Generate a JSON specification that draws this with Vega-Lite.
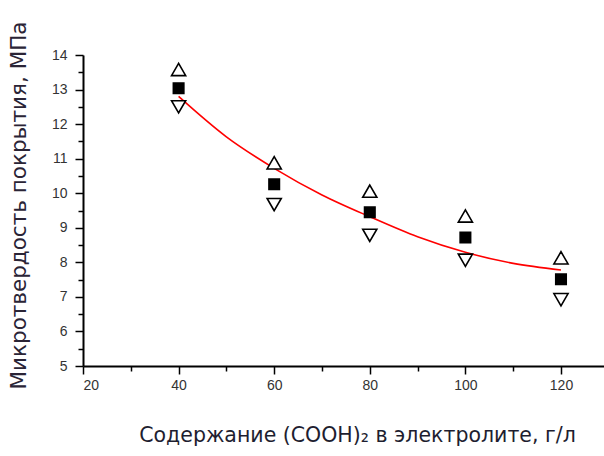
{
  "$schema": "https://vega.github.io/schema/vega-lite/v6.json",
  "width": 521,
  "height": 311,
  "autosize": "none",
  "padding": {"left": 83, "top": 55, "right": 0, "bottom": 90},
  "background": "white",
  "config": {"view": {"stroke": null}},
  "datasets": {
    "pts": [
      {"x": 40, "stat": "max", "value": 13.58},
      {"x": 40, "stat": "mean", "value": 13.04},
      {"x": 40, "stat": "min", "value": 12.5},
      {"x": 60, "stat": "max", "value": 10.88},
      {"x": 60, "stat": "mean", "value": 10.26},
      {"x": 60, "stat": "min", "value": 9.67},
      {"x": 80, "stat": "max", "value": 10.06},
      {"x": 80, "stat": "mean", "value": 9.45},
      {"x": 80, "stat": "min", "value": 8.78},
      {"x": 100, "stat": "max", "value": 9.34},
      {"x": 100, "stat": "mean", "value": 8.72},
      {"x": 100, "stat": "min", "value": 8.06},
      {"x": 120, "stat": "max", "value": 8.13},
      {"x": 120, "stat": "mean", "value": 7.51},
      {"x": 120, "stat": "min", "value": 6.92}
    ],
    "fit": [
      {"x": 40, "value": 12.8},
      {"x": 50, "value": 11.63},
      {"x": 60, "value": 10.72},
      {"x": 70, "value": 9.95},
      {"x": 80, "value": 9.32},
      {"x": 90, "value": 8.74},
      {"x": 100, "value": 8.29},
      {"x": 110, "value": 7.97},
      {"x": 120, "value": 7.78}
    ]
  },
  "resolve": {"axis": {"x": "independent", "y": "independent"}},
  "layer": [
    {
      "data": {"name": "fit"},
      "mark": {"type": "line", "color": "#ff0000", "strokeWidth": 1.6, "interpolate": "monotone"},
      "encoding": {
        "x": {
          "field": "x", "type": "quantitative",
          "scale": {"domain": [20, 129], "nice": false, "zero": false},
          "axis": {"orient": "bottom", "values": [30, 50, 70, 90, 110], "labels": false, "domain": false, "grid": false, "tickSize": 5, "tickWidth": 1.5, "tickColor": "black", "title": null}
        },
        "y": {
          "field": "value", "type": "quantitative",
          "scale": {"domain": [5, 14], "nice": false, "zero": false},
          "axis": {"orient": "left", "values": [5.5, 6.5, 7.5, 8.5, 9.5, 10.5, 11.5, 12.5, 13.5], "labels": false, "domain": false, "grid": false, "tickSize": 5, "tickWidth": 1.5, "tickColor": "black", "title": null}
        }
      }
    },
    {
      "data": {"name": "pts"},
      "mark": {"type": "point", "filled": true, "stroke": "black", "strokeWidth": 1.6, "opacity": 1},
      "encoding": {
        "x": {
          "field": "x", "type": "quantitative",
          "axis": {
            "orient": "bottom",
            "values": [20, 40, 60, 80, 100, 120], "grid": false, "tickSize": 8, "tickWidth": 1.5, "tickColor": "black",
            "domainColor": "black", "domainWidth": 2,
            "labelFont": "Liberation Sans", "labelFontSize": 14, "labelColor": "#333", "labelPadding": 4,
            "title": "Содержание (COOH)₂ в электролите, г/л",
            "titleFont": "DejaVu Sans", "titleFontSize": 20.5, "titleFontWeight": "normal", "titleColor": "#1e1e30",
            "titleAnchor": "middle", "titleAlign": "center", "titleBaseline": "middle", "titleX": 274, "titleY": 69
          }
        },
        "y": {
          "field": "value", "type": "quantitative",
          "axis": {
            "orient": "left",
            "values": [5, 6, 7, 8, 9, 10, 11, 12, 13, 14], "grid": false, "tickSize": 8, "tickWidth": 1.5, "tickColor": "black",
            "domainColor": "black", "domainWidth": 2,
            "labelFont": "Liberation Sans", "labelFontSize": 14, "labelColor": "#333", "labelPadding": 8,
            "title": "Микротвердость покрытия, МПа",
            "titleFont": "DejaVu Sans", "titleFontSize": 21.5, "titleFontWeight": "normal", "titleColor": "#2a2436",
            "titleAnchor": "middle", "titleAlign": "center", "titleBaseline": "middle", "titleAngle": -90, "titleX": -64, "titleY": 150
          }
        },
        "shape": {
          "field": "stat", "type": "nominal",
          "scale": {"domain": ["max", "mean", "min"], "range": ["triangle-up", "square", "triangle-down"]},
          "legend": null
        },
        "fill": {
          "field": "stat", "type": "nominal",
          "scale": {"domain": ["max", "mean", "min"], "range": ["white", "black", "white"]},
          "legend": null
        },
        "size": {
          "field": "stat", "type": "nominal",
          "scale": {"type": "ordinal", "domain": ["max", "mean", "min"], "range": [200, 110, 200]},
          "legend": null
        }
      }
    }
  ]
}
